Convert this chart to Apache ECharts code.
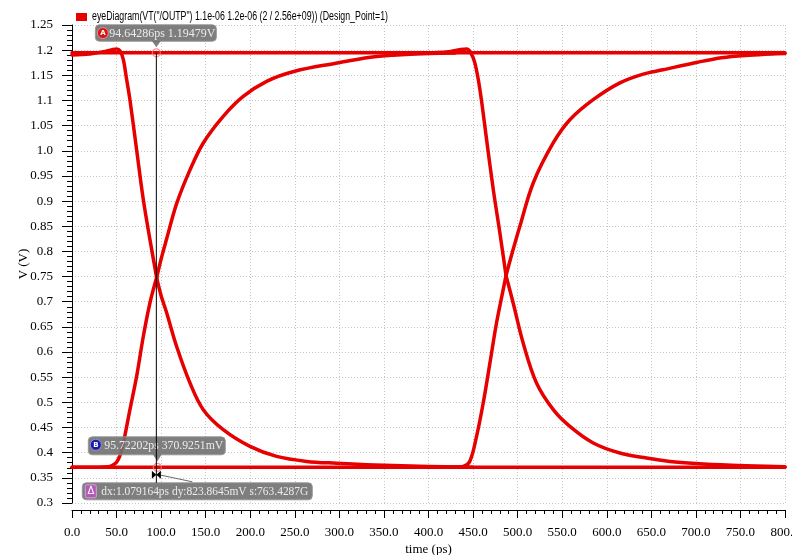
<!DOCTYPE html>
<html>
<head>
<meta charset="utf-8">
<script src="https://cdn.jsdelivr.net/npm/echarts@6/dist/echarts.min.js"></script>
<style>
  html, body { margin: 0; padding: 0; background: #ffffff; }
  #chart { width: 792px; height: 555px; }
</style>
</head>
<body>
<div id="chart"></div>
<script>
// Eye diagram of VT("/OUTP"), two unit intervals folded onto 0..800 ps.
const seriesName = 'eyeDiagram(VT("/OUTP") 1.1e-06 1.2e-06 (2 / 2.56e+09)) (Design_Point=1)';

// Steady logic levels (V)
const highLevel = [[0, 1.1948], [800, 1.1948]];
const lowLevel = [[0, 0.3711], [800, 0.3711]];

// First unit interval, falling: pre-shoot and fast edge down to the crossing [ps, V]
const fallEdge1 = [
  [0, 1.1905], [20, 1.1925], [35, 1.1970], [45, 1.2010], [50, 1.2024], [54, 1.1985],
  [57.6, 1.181], [61, 1.145], [65, 1.1015], [72.5, 1.002], [80, 0.903], [87.5, 0.823], [95, 0.748]
];
// ... then the slow settle to the low level
const fallTail1 = [
  [95, 0.748], [100, 0.712], [106.2, 0.678], [117.4, 0.611], [132.4, 0.5385], [147.3, 0.4855],
  [169.7, 0.4457], [199.7, 0.4125], [229.6, 0.3926], [263.3, 0.3827], [296.9, 0.3790],
  [340, 0.3755], [400, 0.3725], [450, 0.3712]
];

// First unit interval, rising: foot and fast edge up to the crossing
const riseEdge1 = [
  [0, 0.3712], [30, 0.3712], [40, 0.3720], [45, 0.3745], [50, 0.3810], [54, 0.3950],
  [57.6, 0.419], [65, 0.4855], [72.5, 0.5516], [80, 0.631], [87.5, 0.698], [95, 0.748]
];
// ... then the slow settle to the high level
const riseTail1 = [
  [95, 0.748], [100, 0.785], [106.2, 0.825], [117.4, 0.895], [132.4, 0.962], [147.3, 1.0155],
  [169.7, 1.0684], [192.1, 1.108], [218.4, 1.138], [249.9, 1.158], [296, 1.174],
  [334.8, 1.186], [360, 1.190], [400, 1.1935], [430, 1.1945]
];

// Second unit interval, falling
const fallEdge2 = [
  [390, 1.1945], [410, 1.1952], [425, 1.1975], [435, 1.2008], [442.7, 1.2024], [447, 1.1960],
  [452, 1.1746], [457.7, 1.1215], [465.2, 1.0221], [472.7, 0.9228], [480.1, 0.8367], [487, 0.752]
];
const fallTail2 = [
  [487, 0.752], [495, 0.6976], [506.2, 0.618], [521.2, 0.5385], [540, 0.4855], [558.6, 0.4522],
  [584.8, 0.4193], [614.7, 0.3994], [644.6, 0.3894], [670.8, 0.3827], [700, 0.3785],
  [740, 0.3750], [780, 0.3728], [800, 0.3722]
];

// Second unit interval, rising
const riseEdge2 = [
  [390, 0.3712], [430, 0.3712], [439, 0.3727], [446.4, 0.3830], [453.9, 0.4324],
  [461.4, 0.4988], [468.9, 0.578], [476.3, 0.6578], [483.8, 0.724], [487, 0.752]
];
const riseTail2 = [
  [487, 0.752], [492, 0.785], [502.5, 0.8498], [517.5, 0.936], [539.9, 1.0155], [558.6, 1.0617],
  [584.8, 1.1016], [614.7, 1.1350], [640, 1.1520], [663, 1.161], [701.8, 1.176],
  [728.9, 1.185], [759.7, 1.190], [790, 1.1930], [800, 1.1935]
];

// Cursor readouts
const markerA = [94.64286, 1.19479];
const markerB = [95.72202, 0.3709251];
const labelA = '94.64286ps 1.19479V';
const labelB = '95.72202ps 370.9251mV';
const labelDelta = 'dx:1.079164ps dy:823.8645mV s:763.4287G';

const traces = [
  highLevel, lowLevel,
  fallEdge1, fallTail1, riseEdge1, riseTail1,
  fallEdge2, fallTail2, riseEdge2, riseTail2
];

const RED = '#e60000';
const SERIF = '"Liberation Serif", "DejaVu Serif", serif';
const SANS = '"Liberation Sans", "DejaVu Sans", sans-serif';

const chart = echarts.init(document.getElementById('chart'), null, { renderer: 'canvas' });

const traceSeries = traces.map(d => ({
  name: seriesName,
  type: 'line',
  data: d,
  showSymbol: false,
  smooth: 0.35,
  color: RED,
  lineStyle: { color: RED, width: 3.5, cap: 'round', join: 'round' },
  emphasis: { disabled: true },
  animation: false,
  z: 3
}));

chart.setOption({
  animation: false,
  backgroundColor: '#ffffff',
  grid: { left: 72, right: 7, top: 25, bottom: 52, containLabel: false, outerBoundsMode: 'none' },
  legend: {
    data: [{ name: seriesName, icon: 'rect' }],
    left: 76,
    top: 13,
    padding: 0,
    itemWidth: 11,
    itemHeight: 8,
    selectedMode: false,
    formatter: () => '',
    textStyle: { fontSize: 8, lineHeight: 8, color: '#000' }
  },
  xAxis: {
    type: 'value',
    min: 0,
    max: 800,
    interval: 50,
    offset: 7,
    name: 'time (ps)',
    nameLocation: 'middle',
    nameGap: 33,
    nameMoveOverlap: false,
    nameTextStyle: { fontFamily: SERIF, fontSize: 13, color: '#000' },
    axisLine: { show: true, lineStyle: { color: '#000', width: 1 } },
    axisTick: { show: true, length: 8, lineStyle: { color: '#000' } },
    minorTick: { show: true, splitNumber: 5, length: 4, lineStyle: { color: '#000' } },
    axisLabel: {
      margin: 16,
      fontFamily: SERIF,
      fontSize: 13,
      color: '#000',
      formatter: v => Number(v).toFixed(1)
    },
    splitLine: { show: true, lineStyle: { color: '#c4c4c4', width: 1, type: [1, 2] } }
  },
  yAxis: {
    type: 'value',
    min: 0.3,
    max: 1.25,
    interval: 0.05,
    offset: 7,
    name: 'V (V)',
    nameLocation: 'middle',
    nameGap: 35,
    nameMoveOverlap: false,
    nameTextStyle: { fontFamily: SERIF, fontSize: 13, color: '#000' },
    axisLine: { show: true, lineStyle: { color: '#000', width: 1 } },
    axisTick: { show: true, length: 10, lineStyle: { color: '#000' } },
    minorTick: { show: true, splitNumber: 5, length: 5, lineStyle: { color: '#000' } },
    axisLabel: {
      margin: 12,
      fontFamily: SERIF,
      fontSize: 13,
      color: '#000',
      formatter: v => {
        const s = String(+Number(v).toFixed(2));
        return s.indexOf('.') >= 0 ? s : s + '.0';
      }
    },
    splitLine: { show: true, lineStyle: { color: '#c4c4c4', width: 1, type: [1, 2] } }
  },
  series: traceSeries.concat([{
    name: 'cursors',
    type: 'scatter',
    data: [markerA, markerB],
    symbol: 'circle',
    symbolSize: 8,
    itemStyle: { color: 'rgba(255,255,255,0)', borderColor: '#f07a7a', borderWidth: 1.2 },
    emphasis: { disabled: true },
    z: 5
  }])
});

// Measure text so condensed captions can be fitted to their width
const measureCtx = document.createElement('canvas').getContext('2d');
function textWidth(text, font) {
  measureCtx.font = font;
  return measureCtx.measureText(text).width;
}

const graphics = [];

// Legend caption, condensed to the legend's width
const legendFont = '12px ' + SANS;
const legendScale = 296 / textWidth(seriesName, legendFont);
graphics.push({
  type: 'text', x: 92, y: 17, scaleX: legendScale, originX: 0, originY: 0,
  style: { text: seriesName, fill: '#000', font: legendFont, align: 'left', verticalAlign: 'middle' },
  z: 100
});

// Cursor boxes, placed at the pixel positions of the cursor values
const pA = chart.convertToPixel({ gridIndex: 0 }, markerA);
const pB = chart.convertToPixel({ gridIndex: 0 }, markerB);
const BOX_FILL = 'rgba(112,112,112,0.9)';
const BOX_STROKE = 'rgba(150,150,150,0.9)';
const TEXT_FILL = '#ececec';

function readout(x, y, w, h, tipX, tipY) {
  const els = [{
    type: 'rect',
    shape: { x: x, y: y, width: w, height: h, r: 4 },
    style: { fill: BOX_FILL, stroke: BOX_STROKE, lineWidth: 1 },
    z: 100
  }];
  if (tipX !== null) {
    const baseY = y + h;
    els.push({
      type: 'polygon',
      shape: { points: [[tipX - 4.5, baseY - 0.5], [tipX + 4.5, baseY - 0.5], [tipX, tipY]] },
      style: { fill: BOX_FILL },
      z: 100
    });
  }
  return els;
}

function fittedText(text, x, y, width, size) {
  const font = size + 'px ' + SERIF;
  const s = Math.min(1, width / textWidth(text, font));
  return {
    type: 'text', x: x, y: y, scaleX: s, originX: 0, originY: 0,
    style: { text: text, fill: TEXT_FILL, font: font, align: 'left', verticalAlign: 'middle' }, z: 102
  };
}

const ax = pA[0];

// A readout
const aBox = { x: ax - 61, y: pA[1] - 28, w: 121, h: 16.5 };
graphics.push(...readout(aBox.x, aBox.y, aBox.w, aBox.h, ax, pA[1] - 5.5));
graphics.push({
  type: 'circle', shape: { cx: aBox.x + 7.5, cy: aBox.y + aBox.h / 2, r: 5.5 },
  style: { fill: '#d01818', stroke: '#f2a0a0', lineWidth: 0.8 }, z: 101
});
graphics.push({
  type: 'text', x: aBox.x + 7.5, y: aBox.y + aBox.h / 2,
  style: { text: 'A', fill: '#ffffff', font: 'bold 7px "DejaVu Sans", sans-serif', align: 'center', verticalAlign: 'middle' }, z: 102
});
graphics.push(fittedText(labelA, aBox.x + 14, aBox.y + aBox.h / 2 + 0.5, 106, 12));

// B readout
const bBox = { x: pB[0] - 69, y: pB[1] - 30.5, w: 137, h: 18 };
graphics.push(...readout(bBox.x, bBox.y, bBox.w, bBox.h, pB[0], pB[1] - 6));
graphics.push({
  type: 'circle', shape: { cx: bBox.x + 7.5, cy: bBox.y + bBox.h / 2 - 1, r: 5.5 },
  style: { fill: '#1a1aa8', stroke: '#9a9ae0', lineWidth: 0.8 }, z: 101
});
graphics.push({
  type: 'text', x: bBox.x + 7.5, y: bBox.y + bBox.h / 2 - 1,
  style: { text: 'B', fill: '#ffffff', font: 'bold 7px "DejaVu Sans", sans-serif', align: 'center', verticalAlign: 'middle' }, z: 102
});
graphics.push(fittedText(labelB, bBox.x + 16, bBox.y + bBox.h / 2 + 0.5, 119, 12));

// Delta readout
const dBox = { x: pB[0] - 75, y: pB[1] + 15.5, w: 230, h: 17 };
graphics.push(...readout(dBox.x, dBox.y, dBox.w, dBox.h, null, null));
graphics.push({
  type: 'rect', shape: { x: dBox.x + 3, y: dBox.y + 2, width: 11, height: 13, r: 1.5 },
  style: { fill: '#b25ab6', stroke: '#e0b0e4', lineWidth: 0.8 }, z: 101
});
graphics.push({
  type: 'text', x: dBox.x + 8.5, y: dBox.y + 8.5,
  style: { text: 'Δ', fill: '#ffffff', font: '10px "DejaVu Sans", sans-serif', align: 'center', verticalAlign: 'middle' }, z: 102
});
graphics.push(fittedText(labelDelta, dBox.x + 19, dBox.y + dBox.h / 2 + 0.5, 207, 12));

// Cursor line joining A and B, with the delta arrows and leader
const arrowY = pB[1] + 7.5;
graphics.push({
  type: 'line', shape: { x1: ax, y1: pA[1], x2: ax, y2: dBox.y },
  style: { stroke: '#000000', lineWidth: 1 }, z: 103
});
graphics.push({
  type: 'line', shape: { x1: ax + 3, y1: arrowY, x2: ax + 36, y2: arrowY + 7 },
  style: { stroke: '#6a6a6a', lineWidth: 1 }, z: 103
});
graphics.push({
  type: 'polygon', shape: { points: [[ax - 4.5, arrowY - 4], [ax - 4.5, arrowY + 4], [ax, arrowY]] },
  style: { fill: '#000000' }, z: 104
});
graphics.push({
  type: 'polygon', shape: { points: [[ax + 4.5, arrowY - 4], [ax + 4.5, arrowY + 4], [ax, arrowY]] },
  style: { fill: '#000000' }, z: 104
});

chart.setOption({ graphic: { elements: graphics } });
</script>
</body>
</html>
